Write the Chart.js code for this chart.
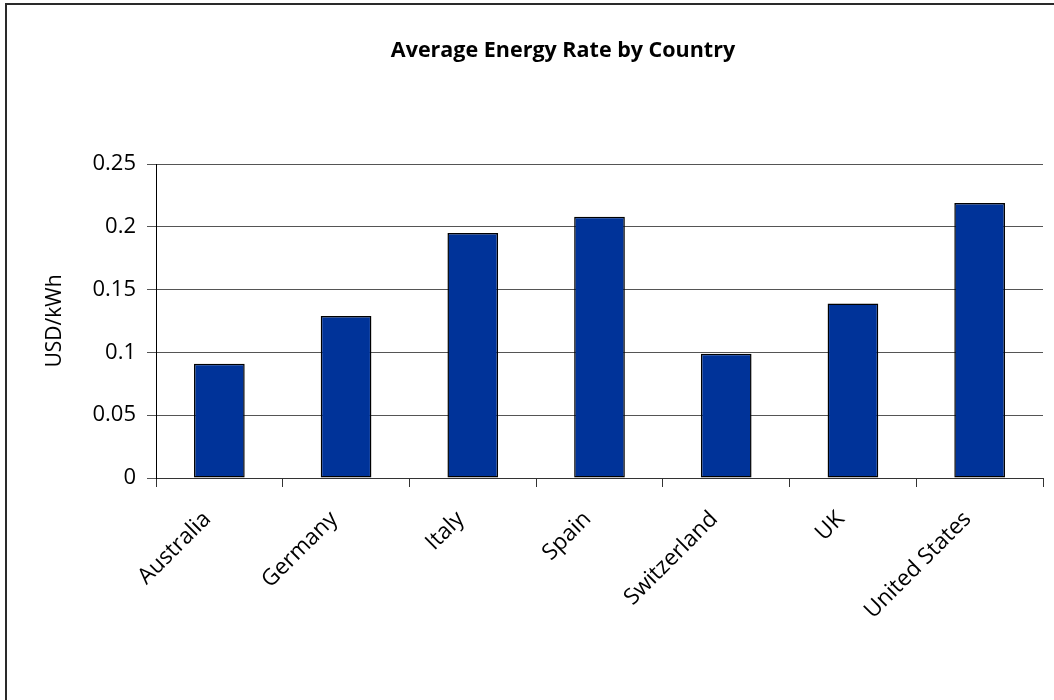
<!DOCTYPE html>
<html>
<head>
<meta charset="utf-8">
<script src="https://cdn.jsdelivr.net/npm/chart.js@4"></script>
<style>
  html, body { margin: 0; padding: 0; background: #fff; overflow: hidden; }
  #wrap { position: relative; width: 1054px; height: 700px; }
  #frame { position: absolute; left: 5px; top: 3px; width: 1100px; height: 800px;
           border-top: 2px solid #2a2a2a; border-left: 2px solid #2a2a2a; box-sizing: border-box; pointer-events: none; }
  canvas { position: absolute; left: 0; top: 0; }
</style>
</head>
<body>
<div id="wrap">
  <canvas id="c" width="1054" height="700"></canvas>
  <div id="frame"></div>
</div>
<script>
// Average electricity price per country
const chartTitle = 'Average Energy Rate by Country';
const yAxisTitle = 'USD/kWh';
const countries = ['Australia', 'Germany', 'Italy', 'Spain', 'Switzerland', 'UK', 'United States'];
const ratesUsdPerKwh = [0.091, 0.129, 0.195, 0.208, 0.099, 0.139, 0.219];
const yTicks = [0, 0.05, 0.1, 0.15, 0.2, 0.25];

const FONT = "'Open Sans', 'Noto Sans', sans-serif";

// chart title drawn centred over the plot
const titlePlugin = {
  id: 'centredTitle',
  afterDraw(chart) {
    const ctx = chart.ctx;
    ctx.save();
    ctx.font = "bold 21.5px " + FONT;
    ctx.fillStyle = '#000';
    ctx.textAlign = 'center';
    ctx.textBaseline = 'middle';
    ctx.fillText(chartTitle, 563, 51);
    ctx.restore();
  }
};

new Chart(document.getElementById('c'), {
  type: 'bar',
  data: {
    labels: countries,
    datasets: [{
      data: ratesUsdPerKwh,
      backgroundColor: '#003399',
      borderColor: '#000',
      borderWidth: 1.5,
      borderSkipped: false,
      barPercentage: 0.4,
      categoryPercentage: 1.0
    }]
  },
  options: {
    responsive: false,
    animation: false,
    layout: { padding: { top: 164, right: 11, left: 0, bottom: 0 } },
    plugins: { legend: { display: false }, tooltip: { enabled: false }, title: { display: false } },
    scales: {
      x: {
        grid: { display: true, drawOnChartArea: false, offset: true, color: '#333', tickLength: 9, lineWidth: 1 },
        border: { display: true, color: '#333', width: 1 },
        ticks: { color: '#000', font: { family: FONT, size: 22.5 }, maxRotation: 45, minRotation: 45,
                 padding: 19, labelOffset: -12, autoSkip: false },
        afterFit(scale) { scale.height = 222; }
      },
      y: {
        min: 0, max: 0.25,
        afterBuildTicks(scale) { scale.ticks = yTicks.map(v => ({ value: v })); },
        grid: { color: '#555', tickLength: 9, lineWidth: 1 },
        border: { display: true, color: '#000', width: 1 },
        ticks: { color: '#000', font: { family: FONT, size: 22 }, padding: 11,
                 callback: v => String(v) },
        title: { display: true, text: yAxisTitle, color: '#000', font: { family: FONT, size: 21 }, padding: { top: 42, bottom: 0 } },
        afterFit(scale) { scale.width = 156; }
      }
    }
  },
  plugins: [titlePlugin]
});
</script>
</body>
</html>
